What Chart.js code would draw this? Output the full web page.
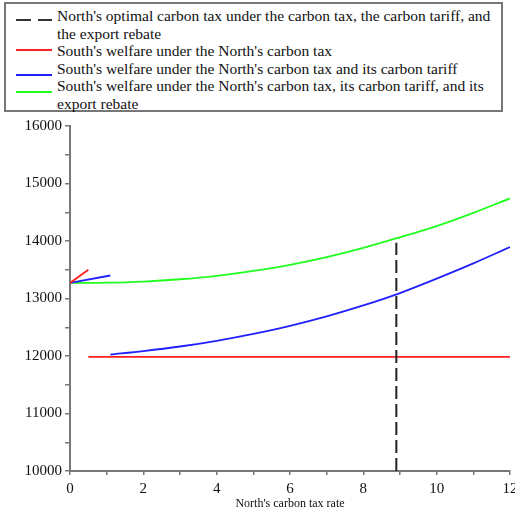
<!DOCTYPE html>
<html>
<head>
<meta charset="utf-8">
<script src="https://cdn.jsdelivr.net/npm/chart.js@4/dist/chart.umd.min.js"></script>
<style>
  html, body { margin: 0; padding: 0; background: #fff; }
  #wrap { position: relative; width: 515px; height: 515px; }
  #chart { position: absolute; left: 0; top: 0; }
  #legend {
    position: absolute; left: 4px; top: 2px; width: 495px; height: 106px;
    border: 2px solid #777; background: #fff;
    font-family: "Liberation Serif", "Times New Roman", serif; font-size: 15.5px; color: #111;
  }
  .row { position: absolute; left: 51px; line-height: 17.5px; white-space: nowrap; }
  .sample { position: absolute; left: 10px; width: 36px; height: 0; }
</style>
</head>
<body>
<div id="wrap">
  <canvas id="chart" width="515" height="515"></canvas>
  <div id="legend"></div>
</div>
<script>
// ---- Data ----
const optimalTax = 8.9;
const optimalLine = [10000, 13970];

// red: short rising piece near 0, then flat
const redX = [0, 0.5, 0.5, 0.5, 12];
const redY = [13270, 13500, null, 11985, 11985];

// blue: short piece near 0, then the rising curve from 1.1
const blueX = [0, 1.1, 1.1, 1.1, 2, 3, 4, 5, 6, 7, 8, 9, 10, 11, 12];
const blueY = [13270, 13400, null, 12025, 12085, 12165, 12265, 12385, 12525, 12690, 12880, 13095, 13345, 13610, 13895];

const greenX = [0, 1, 2, 3, 4, 5, 6, 7, 8, 9, 10, 11, 12];
const greenY = [13270, 13275, 13295, 13335, 13395, 13480, 13585, 13720, 13880, 14065, 14260, 14490, 14740];

const labels = [
  ["North's optimal carbon tax under the carbon tax, the carbon tariff, and", "the export rebate"],
  ["South's welfare under the North's carbon tax"],
  ["South's welfare under the North's carbon tax and its carbon tariff"],
  ["South's welfare under the North's carbon tax, its carbon tariff, and its", "export rebate"]
];

const pts = (xs, ys) => xs.map((v, i) => ({ x: v, y: ys[i] }));

const axisGray = '#777';
const serif = "'Liberation Serif', 'Times New Roman', serif";
const tickFont = { family: serif, size: 15 };

const chart = new Chart(document.getElementById('chart'), {
  type: 'line',
  data: {
    datasets: [
      {
        label: labels[0].join(' '),
        data: pts([optimalTax, optimalTax], optimalLine),
        borderColor: '#222', borderWidth: 2, borderDash: [13, 5]
      },
      {
        label: labels[1].join(' '),
        data: pts(redX, redY),
        borderColor: '#ff2020', borderWidth: 1.8
      },
      {
        label: labels[2].join(' '),
        data: pts(blueX, blueY),
        borderColor: '#2020ff', borderWidth: 1.8, cubicInterpolationMode: 'monotone'
      },
      {
        label: labels[3].join(' '),
        data: pts(greenX, greenY),
        borderColor: '#20ff20', borderWidth: 1.8, cubicInterpolationMode: 'monotone'
      }
    ]
  },
  options: {
    responsive: false,
    animation: false,
    spanGaps: false,
    elements: { point: { radius: 0 } },
    layout: { padding: { top: 126, right: 5, bottom: 4, left: 0 } },
    plugins: { legend: { display: false }, tooltip: { enabled: false } },
    scales: {
      x: {
        type: 'linear', min: 0, max: 12,
        afterFit: s => { s.height = 40; s.paddingLeft = 0; s.paddingRight = 0; },
        border: { display: true, color: axisGray, width: 2 },
        grid: { display: true, drawOnChartArea: false, drawTicks: true, tickLength: 4, color: axisGray, lineWidth: 1.5 },
        ticks: {
          stepSize: 1, color: '#111', font: tickFont, padding: 5, maxRotation: 0,
          callback: v => (v % 2 === 0 ? String(v) : '')
        },
        title: {
          display: true, text: "North's carbon tax rate", color: '#111',
          font: { family: serif, size: 12 }, padding: { top: 0, bottom: 0 }
        }
      },
      y: {
        min: 10000, max: 16000,
        afterFit: s => { s.width = 70; },
        border: { display: true, color: axisGray, width: 2 },
        grid: { display: true, drawOnChartArea: false, drawTicks: true, tickLength: 5, color: axisGray, lineWidth: 1.5 },
        ticks: {
          stepSize: 500, color: '#111', font: tickFont, padding: 3,
          callback: v => (v % 1000 === 0 ? String(v) : '')
        }
      }
    }
  }
});

// ---- HTML legend built from the datasets ----
const legend = document.getElementById('legend');
const rowTops = [3, 38, 55.5, 73];
const sampleTops = [15, 44.5, 69.5, 86.5];
chart.data.datasets.forEach((ds, i) => {
  const row = document.createElement('div');
  row.className = 'row';
  row.style.top = rowTops[i] + 'px';
  row.innerHTML = labels[i].join('<br>');
  legend.appendChild(row);
  const s = document.createElement('div');
  s.className = 'sample';
  s.style.top = sampleTops[i] + 'px';
  if (i === 0) {
    s.innerHTML = '<div style="position:absolute;left:0;width:15px;border-top:2px solid #333"></div>' +
                  '<div style="position:absolute;left:22px;width:14px;border-top:2px solid #333"></div>';
  } else {
    s.style.borderTop = '2px solid ' + ds.borderColor;
  }
  legend.appendChild(s);
});
</script>
</body>
</html>
